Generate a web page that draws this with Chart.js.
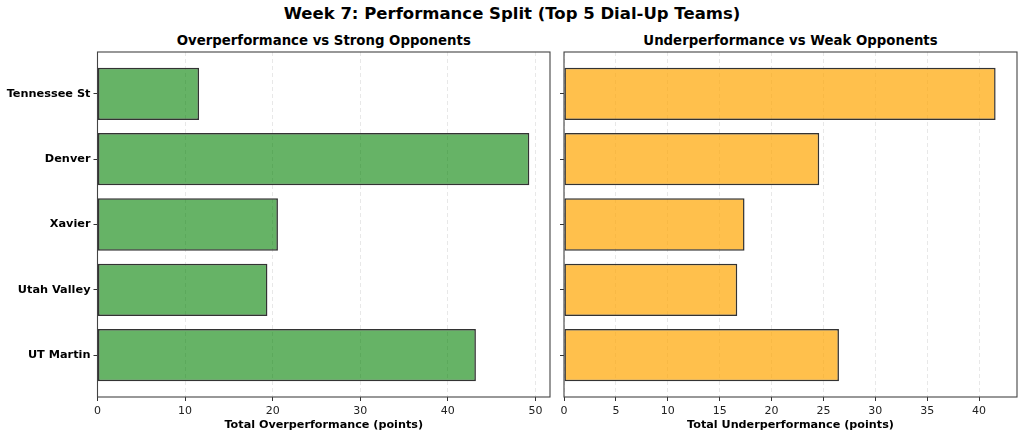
<!DOCTYPE html>
<html>
<head>
<meta charset="utf-8">
<script src="https://cdn.jsdelivr.net/npm/chart.js@4.4.1/dist/chart.umd.min.js"></script>
<style>
  html, body { margin:0; padding:0; background:#fff; }
  body { width:1024px; height:437px; position:relative; overflow:hidden; font-family:"DejaVu Sans", sans-serif; }
  #mainTitle { position:absolute; left:0; top:4px; width:1024px; text-align:center; font-weight:bold; font-size:16.5px; color:#000; }
  .sub { position:absolute; top:33px; text-align:center; font-weight:bold; font-size:13.3px; color:#000; white-space:nowrap; }
  #t1 { left:97.5px; width:452.5px; }
  #t2 { left:564px; width:453px; }
  .wrap { position:absolute; top:30px; height:407px; }
  #w1 { left:0; width:556px; }
  #w2 { left:556px; width:468px; }
</style>
</head>
<body>
<div id="mainTitle">Week 7: Performance Split (Top 5 Dial-Up Teams)</div>
<div class="sub" id="t1">Overperformance vs Strong Opponents</div>
<div class="sub" id="t2">Underperformance vs Weak Opponents</div>
<div class="wrap" id="w1"><canvas id="c1"></canvas></div>
<div class="wrap" id="w2"><canvas id="c2"></canvas></div>
<script>
const teams = ["Tennessee St", "Denver", "Xavier", "Utah Valley", "UT Martin"];
const overperformance = [11.6, 49.3, 20.6, 19.4, 43.2];
const underperformance = [41.6, 24.6, 17.4, 16.7, 26.5];
const overTicks = [0, 10, 20, 30, 40, 50];
const underTicks = [0, 5, 10, 15, 20, 25, 30, 35, 40];

const FONT = "'DejaVu Sans', sans-serif";

const framePlugin = {
  id: 'frame',
  afterDraw(chart) {
    const a = chart.chartArea, ctx = chart.ctx;
    ctx.save();
    ctx.strokeStyle = '#444';
    ctx.lineWidth = 1.1;
    ctx.strokeRect(a.left, a.top, a.right - a.left, a.bottom - a.top);
    ctx.restore();
  }
};

function makeChart(id, values, color, xlabel, xmax, ticks, showLabels, yWidth, padRight) {
  const data = values.map((v, i) => ({ x: v, y: i }));
  return new Chart(document.getElementById(id), {
    type: 'bar',
    data: {
      datasets: [{
        data: data,
        backgroundColor: color,
        borderColor: '#333',
        borderWidth: 1.5,
        borderSkipped: false,
        barPercentage: 0.8,
        categoryPercentage: 1.0
      }]
    },
    options: {
      indexAxis: 'y',
      responsive: true,
      maintainAspectRatio: false,
      animation: false,
      layout: { padding: { left: 0, right: padRight, top: 22, bottom: 0 } },
      plugins: {
        legend: { display: false },
        tooltip: { enabled: false },
        title: { display: false }
      },
      scales: {
        x: {
          type: 'linear',
          min: 0,
          max: xmax,
          afterBuildTicks(scale) { scale.ticks = ticks.map(v => ({ value: v })); },
          afterFit(scale) { scale.height = 40; },
          ticks: { color: '#222', font: { family: FONT, size: 11 }, padding: 4, autoSkip: false, maxRotation: 0 },
          grid: {
            display: true,
            drawOnChartArea: true,
            color: 'rgba(170,170,170,0.35)',
            lineWidth: 0.8,
            tickLength: 4,
            tickColor: '#333',
            tickWidth: 1
          },
          border: { display: false, dash: [4, 3] },
          title: {
            display: true,
            text: xlabel,
            color: '#000',
            font: { family: FONT, size: 11.2, weight: 'bold' },
            padding: { top: 0, bottom: 5 }
          }
        },
        y: {
          type: 'linear',
          reverse: true,
          offset: false,
          min: -0.64,
          max: 4.64,
          afterBuildTicks(scale) { scale.ticks = teams.map((t, i) => ({ value: i })); },
          afterFit(scale) { scale.width = yWidth; },
          ticks: {
            display: showLabels,
            color: '#000',
            font: { family: FONT, size: 11.3, weight: 'bold' },
            padding: 3,
            autoSkip: false,
            callback: (v) => teams[v] !== undefined ? teams[v] : ''
          },
          grid: {
            display: true,
            offset: false,
            drawOnChartArea: false,
            tickLength: 4,
            tickColor: '#333',
            tickWidth: 1
          },
          border: { display: false }
        }
      }
    },
    plugins: [framePlugin]
  });
}

Chart.defaults.font.family = FONT;

makeChart('c1', overperformance, 'rgba(0,128,0,0.6)',
  'Total Overperformance (points)', 51.66, overTicks, true, 97.5, 6);
makeChart('c2', underperformance, 'rgba(255,165,0,0.7)',
  'Total Underperformance (points)', 43.66, underTicks, false, 8, 7);
</script>
</body>
</html>
